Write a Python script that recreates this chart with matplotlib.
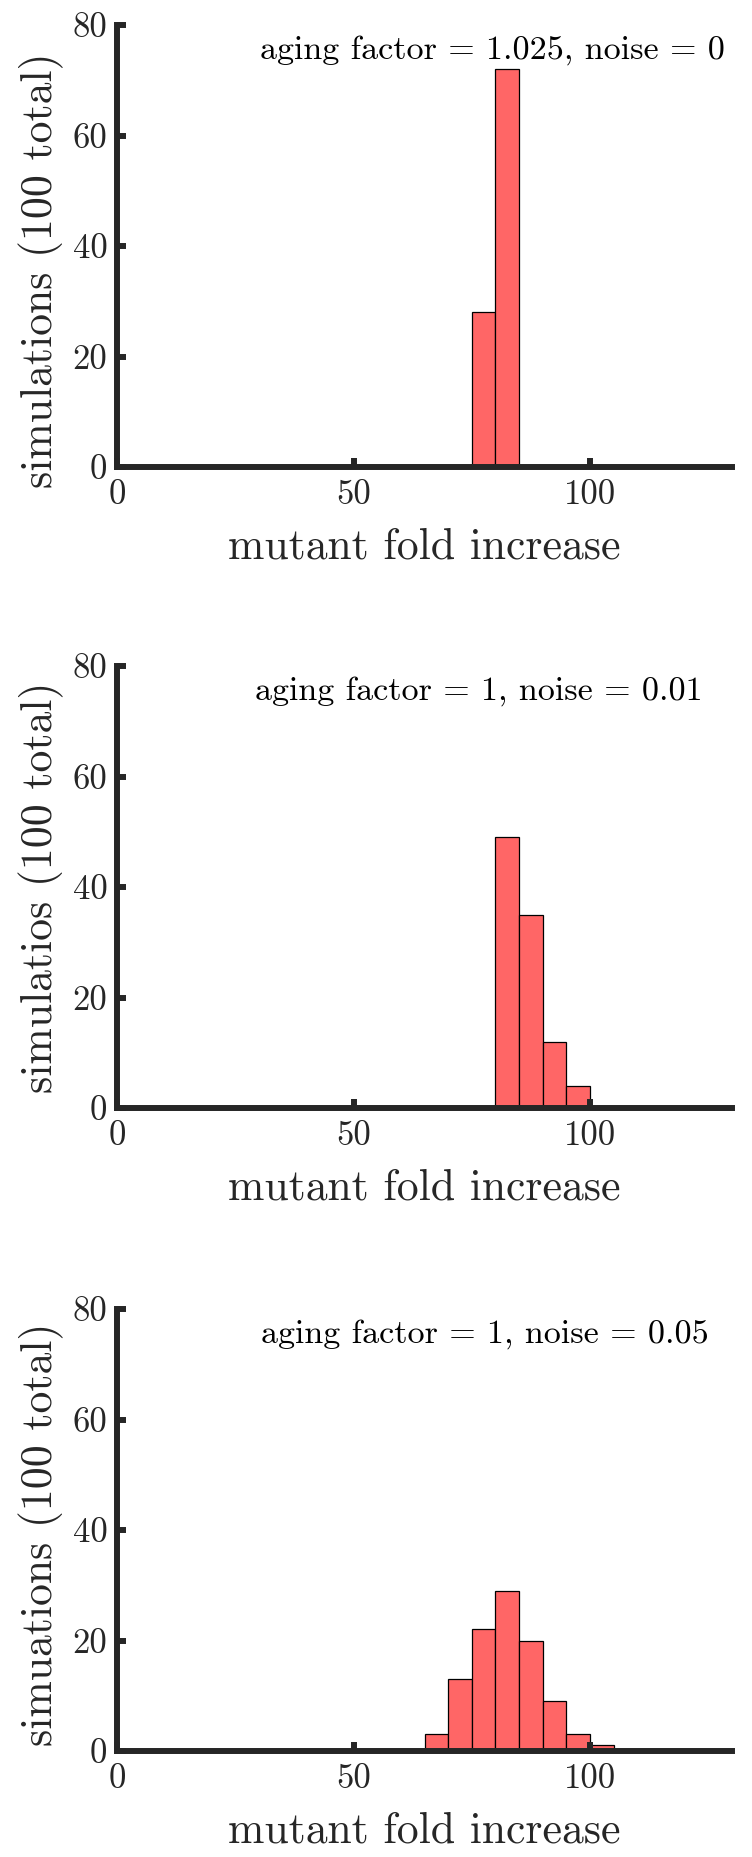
import matplotlib
matplotlib.use("Agg")
import matplotlib.pyplot as plt

# ---- data ----
panel1_bin_left = [75, 80]
panel1_counts = [28, 72]
panel2_bin_left = [80, 85, 90, 95]
panel2_counts = [49, 35, 12, 4]
panel3_bin_left = [65, 70, 75, 80, 85, 90, 95, 100]
panel3_counts = [3, 13, 22, 29, 20, 9, 3, 1]
bin_width = 5

titles = ["aging factor = 1.025, noise = 0",
          "aging factor = 1, noise = 0.01",
          "aging factor = 1, noise = 0.05"]
ylabels = ["simulations (100 total)",
           "simulatios (100 total)",
           "simuations (100 total)"]
xlabel = "mutant fold increase"
xticks = [0, 50, 100]
yticks = [0, 20, 40, 60, 80]

plt.rcParams['font.family'] = 'serif'
plt.rcParams['font.serif'] = ['cmr10']
plt.rcParams['mathtext.fontset'] = 'cm'
plt.rcParams['axes.unicode_minus'] = False

axc = '#262626'
W, H = 752, 1857
fig = plt.figure(figsize=(W / 100, H / 100), dpi=100)

left = 117 / W
width = (732 - 117) / W
height = 442 / H
bottoms = [1 - 467 / H, 1 - 1108 / H, 1 - 1751 / H]
text_x = [0.611, 0.588, 0.598]
ylabel_y = [0.445, 0.5, 0.49]

data = [(panel1_bin_left, panel1_counts),
        (panel2_bin_left, panel2_counts),
        (panel3_bin_left, panel3_counts)]

for i, (bl, cnt) in enumerate(data):
    ax = fig.add_axes([left, bottoms[i], width, height])
    ax.bar(bl, cnt, width=bin_width, align='edge', color='#FF6666',
           edgecolor='black', linewidth=0.9, zorder=1)
    ax.set_xlim(0, 130)
    ax.set_ylim(0, 80)
    ax.set_xticks(xticks)
    ax.set_yticks(yticks)
    for s in ['top', 'right']:
        ax.spines[s].set_visible(False)
    for s in ['left', 'bottom']:
        ax.spines[s].set_linewidth(4.3)
        ax.spines[s].set_color(axc)
        ax.spines[s].set_zorder(3)
    ax.tick_params(direction='in', length=6.5, width=4.3, color=axc,
                   labelcolor=axc, labelsize=25)
    ax.tick_params(axis='x', pad=9)
    ax.tick_params(axis='y', pad=7)
    ax.set_xlabel(xlabel, fontsize=31.5, color=axc, labelpad=12)
    ax.set_ylabel(ylabels[i], fontsize=31.5, color=axc, labelpad=6)
    ax.yaxis.label.set_y(ylabel_y[i])
    ax.text(text_x[i], 0.943, titles[i], transform=ax.transAxes,
            ha='center', va='center', fontsize=24.5, color='black')

fig.savefig("out.png", dpi=100)
